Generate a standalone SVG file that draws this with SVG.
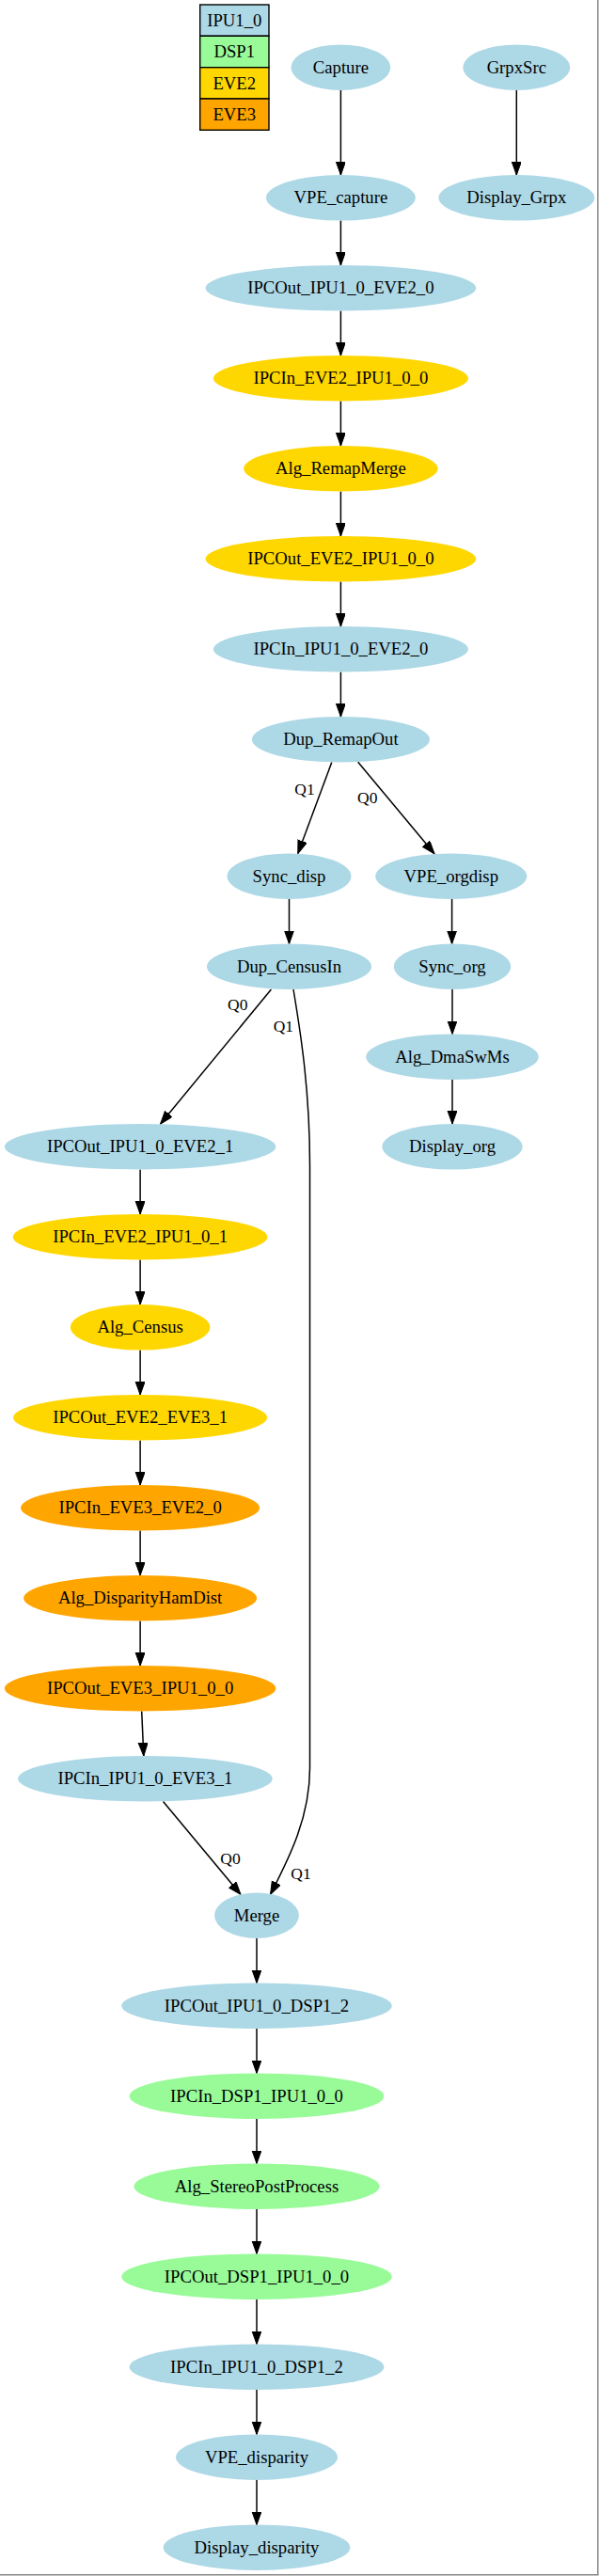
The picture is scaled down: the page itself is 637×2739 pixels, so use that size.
<svg xmlns="http://www.w3.org/2000/svg" width="637" height="2739" viewBox="0 0 637 2739">
<style>
text{font-family:"Liberation Serif","Times New Roman",serif;font-size:18.7px;fill:#000;text-anchor:middle}
.lbl{font-size:17.5px}
.ipu{fill:#add8e6}
.dsp{fill:#98fb98}
.eve2{fill:#ffd700}
.eve3{fill:#ffa500}
.e{stroke:#000;stroke-width:1.5;fill:none;marker-end:url(#ah)}
.leg{stroke:#000;stroke-width:1.4}
</style>
<defs>
<marker id="ah" markerUnits="userSpaceOnUse" markerWidth="15" markerHeight="11" refX="14" refY="5" orient="auto" viewBox="0 0 15 11">
<path d="M0,0 L14,5 L0,10 z" fill="#000" stroke="#000" stroke-width="1"/>
</marker>
</defs>
<rect width="637" height="2739" fill="#fff"/>
<g id="legend">
<rect class="ipu leg" x="212.7" y="5" width="73.3" height="33.3"/>
<rect class="dsp leg" x="212.7" y="38.3" width="73.3" height="33.4"/>
<rect class="eve2 leg" x="212.7" y="71.7" width="73.3" height="33.3"/>
<rect class="eve3 leg" x="212.7" y="105" width="73.3" height="33.3"/>
<text x="249.3" y="28">IPU1_0</text>
<text x="249.3" y="61.3">DSP1</text>
<text x="249.3" y="94.6">EVE2</text>
<text x="249.3" y="128">EVE3</text>
</g>
<g id="edges">
<path class="e" d="M362.4,95.9 L362.4,186.1"/>
<path class="e" d="M549.3,95.9 L549.3,186.1"/>
<path class="e" d="M362.4,234.5 L362.4,282.1"/>
<path class="e" d="M362.4,330.5 L362.4,378.1"/>
<path class="e" d="M362.4,426.5 L362.4,474.1"/>
<path class="e" d="M362.4,522.5 L362.4,570.1"/>
<path class="e" d="M362.4,618.5 L362.4,666.1"/>
<path class="e" d="M362.4,714.5 L362.4,762.1"/>
<path class="e" d="M352.8,810.5 L316.8,907.5"/>
<path class="e" d="M380.7,810.2 L462,907.8"/>
<path class="e" d="M307.5,955.9 L307.5,1003.5"/>
<path class="e" d="M480.6,955.9 L480.6,1003.5"/>
<path class="e" d="M481,1051.9 L481,1099.5"/>
<path class="e" d="M481,1147.9 L481,1195.1"/>
<path class="e" d="M288.4,1052 L170.6,1195"/>
<path class="e" d="M312,1052 C320,1100 329.5,1160 329.5,1240 L329.5,1880 C329.5,1935 305,1980 287.5,2014.5"/>
<path class="e" d="M149.1,1243.5 L149.1,1291.1"/>
<path class="e" d="M149.1,1339.5 L149.1,1387.1"/>
<path class="e" d="M149.1,1435.5 L149.1,1483.1"/>
<path class="e" d="M149.1,1531.5 L149.1,1579.1"/>
<path class="e" d="M149.1,1627.5 L149.1,1675.1"/>
<path class="e" d="M149.1,1723.5 L149.1,1771.1"/>
<path class="e" d="M150.7,1819.5 L152.8,1867.1"/>
<path class="e" d="M173.5,1915.5 L256,2014.5"/>
<path class="e" d="M273,2060.9 L273,2108.5"/>
<path class="e" d="M273,2156.9 L273,2204.5"/>
<path class="e" d="M273,2252.9 L273,2300.5"/>
<path class="e" d="M273,2348.9 L273,2396.5"/>
<path class="e" d="M273,2444.9 L273,2492.5"/>
<path class="e" d="M273,2540.9 L273,2588.5"/>
<path class="e" d="M273,2636.9 L273,2684.5"/>
<text class="lbl" x="324" y="845">Q1</text>
<text class="lbl" x="390.7" y="854">Q0</text>
<text class="lbl" x="252.7" y="1074">Q0</text>
<text class="lbl" x="301.4" y="1097">Q1</text>
<text class="lbl" x="245" y="1982">Q0</text>
<text class="lbl" x="320" y="1998">Q1</text>
</g>
<g id="Capture"><ellipse class="ipu" cx="362.4" cy="71.7" rx="52.8" ry="24.2"/><text x="362.4" y="77.7">Capture</text></g>
<g id="GrpxSrc"><ellipse class="ipu" cx="549.3" cy="71.7" rx="56.9" ry="24.2"/><text x="549.3" y="77.7">GrpxSrc</text></g>
<g id="VPE_capture"><ellipse class="ipu" cx="362.4" cy="210.3" rx="79.4" ry="24.2"/><text x="362.4" y="216.3">VPE_capture</text></g>
<g id="Display_Grpx"><ellipse class="ipu" cx="549.3" cy="210.3" rx="82.9" ry="24.2"/><text x="549.3" y="216.3">Display_Grpx</text></g>
<g id="IPCOut_IPU1_0_EVE2_0"><ellipse class="ipu" cx="362.4" cy="306.3" rx="143.8" ry="24.2"/><text x="362.4" y="312.3">IPCOut_IPU1_0_EVE2_0</text></g>
<g id="IPCIn_EVE2_IPU1_0_0"><ellipse class="eve2" cx="362.4" cy="402.3" rx="135.5" ry="24.2"/><text x="362.4" y="408.3">IPCIn_EVE2_IPU1_0_0</text></g>
<g id="Alg_RemapMerge"><ellipse class="eve2" cx="362.4" cy="498.3" rx="103.2" ry="24.2"/><text x="362.4" y="504.3">Alg_RemapMerge</text></g>
<g id="IPCOut_EVE2_IPU1_0_0"><ellipse class="eve2" cx="362.4" cy="594.3" rx="143.8" ry="24.2"/><text x="362.4" y="600.3">IPCOut_EVE2_IPU1_0_0</text></g>
<g id="IPCIn_IPU1_0_EVE2_0"><ellipse class="ipu" cx="362.4" cy="690.3" rx="135.5" ry="24.2"/><text x="362.4" y="696.3">IPCIn_IPU1_0_EVE2_0</text></g>
<g id="Dup_RemapOut"><ellipse class="ipu" cx="362.4" cy="786.3" rx="94.5" ry="24.2"/><text x="362.4" y="792.3">Dup_RemapOut</text></g>
<g id="Sync_disp"><ellipse class="ipu" cx="307.5" cy="931.7" rx="66" ry="24.2"/><text x="307.5" y="937.7">Sync_disp</text></g>
<g id="VPE_orgdisp"><ellipse class="ipu" cx="479.8" cy="931.7" rx="80.6" ry="24.2"/><text x="479.8" y="937.7">VPE_orgdisp</text></g>
<g id="Dup_CensusIn"><ellipse class="ipu" cx="307.5" cy="1027.7" rx="87.6" ry="24.2"/><text x="307.5" y="1033.7">Dup_CensusIn</text></g>
<g id="Sync_org"><ellipse class="ipu" cx="481" cy="1027.7" rx="62.2" ry="24.2"/><text x="481" y="1033.7">Sync_org</text></g>
<g id="Alg_DmaSwMs"><ellipse class="ipu" cx="481" cy="1123.7" rx="91.8" ry="24.2"/><text x="481" y="1129.7">Alg_DmaSwMs</text></g>
<g id="Display_org"><ellipse class="ipu" cx="481" cy="1219.3" rx="74.6" ry="24.2"/><text x="481" y="1225.3">Display_org</text></g>
<g id="IPCOut_IPU1_0_EVE2_1"><ellipse class="ipu" cx="149.1" cy="1219.3" rx="144.2" ry="24.2"/><text x="149.1" y="1225.3">IPCOut_IPU1_0_EVE2_1</text></g>
<g id="IPCIn_EVE2_IPU1_0_1"><ellipse class="eve2" cx="149.1" cy="1315.3" rx="135.3" ry="24.2"/><text x="149.1" y="1321.3">IPCIn_EVE2_IPU1_0_1</text></g>
<g id="Alg_Census"><ellipse class="eve2" cx="149.1" cy="1411.3" rx="74.2" ry="24.2"/><text x="149.1" y="1417.3">Alg_Census</text></g>
<g id="IPCOut_EVE2_EVE3_1"><ellipse class="eve2" cx="149.1" cy="1507.3" rx="135" ry="24.2"/><text x="149.1" y="1513.3">IPCOut_EVE2_EVE3_1</text></g>
<g id="IPCIn_EVE3_EVE2_0"><ellipse class="eve3" cx="149.1" cy="1603.3" rx="127" ry="24.2"/><text x="149.1" y="1609.3">IPCIn_EVE3_EVE2_0</text></g>
<g id="Alg_DisparityHamDist"><ellipse class="eve3" cx="149.1" cy="1699.3" rx="124" ry="24.2"/><text x="149.1" y="1705.3">Alg_DisparityHamDist</text></g>
<g id="IPCOut_EVE3_IPU1_0_0"><ellipse class="eve3" cx="149.1" cy="1795.3" rx="144.2" ry="24.2"/><text x="149.1" y="1801.3">IPCOut_EVE3_IPU1_0_0</text></g>
<g id="IPCIn_IPU1_0_EVE3_1"><ellipse class="ipu" cx="154.4" cy="1891.3" rx="135.3" ry="24.2"/><text x="154.4" y="1897.3">IPCIn_IPU1_0_EVE3_1</text></g>
<g id="Merge"><ellipse class="ipu" cx="273" cy="2036.7" rx="44.9" ry="24.2"/><text x="273" y="2042.7">Merge</text></g>
<g id="IPCOut_IPU1_0_DSP1_2"><ellipse class="ipu" cx="273" cy="2132.7" rx="143.8" ry="24.2"/><text x="273" y="2138.7">IPCOut_IPU1_0_DSP1_2</text></g>
<g id="IPCIn_DSP1_IPU1_0_0"><ellipse class="dsp" cx="273" cy="2228.7" rx="135.5" ry="24.2"/><text x="273" y="2234.7">IPCIn_DSP1_IPU1_0_0</text></g>
<g id="Alg_StereoPostProcess"><ellipse class="dsp" cx="273" cy="2324.7" rx="130.6" ry="24.2"/><text x="273" y="2330.7">Alg_StereoPostProcess</text></g>
<g id="IPCOut_DSP1_IPU1_0_0"><ellipse class="dsp" cx="273" cy="2420.7" rx="143.8" ry="24.2"/><text x="273" y="2426.7">IPCOut_DSP1_IPU1_0_0</text></g>
<g id="IPCIn_IPU1_0_DSP1_2"><ellipse class="ipu" cx="273" cy="2516.7" rx="135.5" ry="24.2"/><text x="273" y="2522.7">IPCIn_IPU1_0_DSP1_2</text></g>
<g id="VPE_disparity"><ellipse class="ipu" cx="273" cy="2612.7" rx="86" ry="24.2"/><text x="273" y="2618.7">VPE_disparity</text></g>
<g id="Display_disparity"><ellipse class="ipu" cx="273" cy="2708.7" rx="99.4" ry="24.2"/><text x="273" y="2714.7">Display_disparity</text></g>
<g id="frame">
<line x1="635.8" y1="0" x2="635.8" y2="2738" stroke="#888" stroke-width="1.5"/>
<line x1="0" y1="2737.7" x2="636.5" y2="2737.7" stroke="#888" stroke-width="1.5"/>
</g>
</svg>
